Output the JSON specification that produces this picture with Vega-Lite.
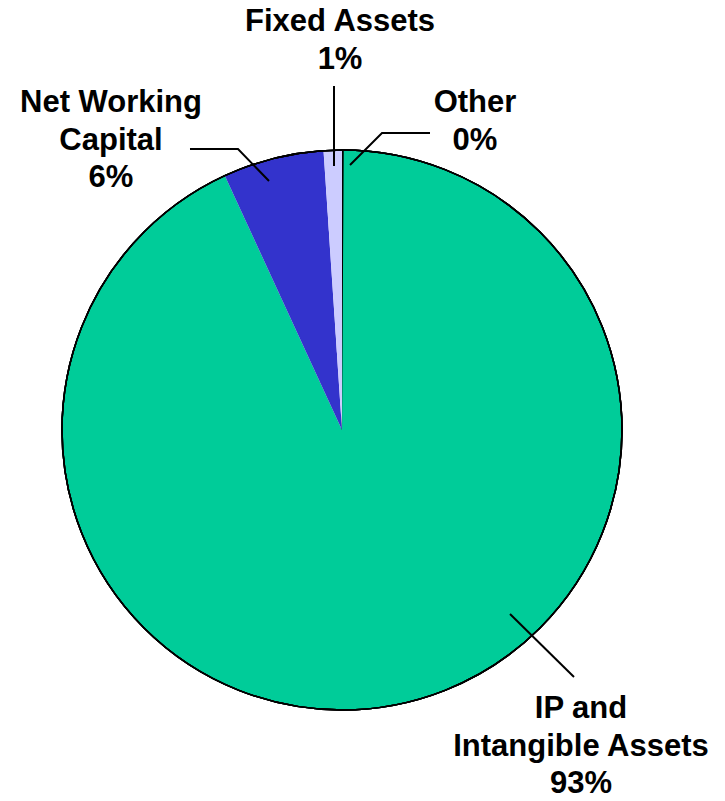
{
  "$schema": "https://vega.github.io/schema/vega-lite/v6.json",
  "width": 684,
  "height": 742,
  "autosize": {"type": "none"},
  "padding": {"left": 0, "top": 59, "right": 41, "bottom": 0},
  "background": "white",
  "config": {"view": {"stroke": null}},
  "datasets": {
    "slices": [
      {"category": "Other", "value": 0.1, "ord": 1},
      {"category": "IP and Intangible Assets", "value": 93.03, "ord": 2},
      {"category": "Net Working Capital", "value": 5.82, "ord": 3},
      {"category": "Fixed Assets", "value": 1.05, "ord": 4}
    ],
    "labels": [
      {"category": "Fixed Assets", "name": "Fixed Assets", "value": 1.05, "u": -0.007, "v": 1.425},
      {"category": "Other", "name": "Other", "value": 0.1, "u": 0.475, "v": 1.1357},
      {"category": "Net Working Capital", "name": "Net Working\nCapital", "value": 5.82, "u": -0.825, "v": 1.1357},
      {"category": "IP and Intangible Assets", "name": "IP and\nIntangible Assets", "value": 93.03, "u": 0.8536, "v": -1.0286}
    ],
    "leaders": [
      {"seg": "Fixed Assets", "ord": 1, "u": -0.0286, "v": 1.2286},
      {"seg": "Fixed Assets", "ord": 2, "u": -0.0286, "v": 0.9429},
      {"seg": "Other", "ord": 1, "u": 0.3143, "v": 1.0607},
      {"seg": "Other", "ord": 2, "u": 0.1429, "v": 1.0607},
      {"seg": "Other", "ord": 3, "u": 0.0286, "v": 0.9464},
      {"seg": "Net Working Capital", "ord": 1, "u": -0.5429, "v": 1.0036},
      {"seg": "Net Working Capital", "ord": 2, "u": -0.3714, "v": 1.0036},
      {"seg": "Net Working Capital", "ord": 3, "u": -0.2607, "v": 0.8893},
      {"seg": "IP and Intangible Assets", "ord": 1, "u": 0.6, "v": -0.6571},
      {"seg": "IP and Intangible Assets", "ord": 2, "u": 0.8286, "v": -0.8821}
    ]
  },
  "layer": [
    {
      "data": {"name": "slices"},
      "mark": {"type": "arc", "outerRadius": 280, "stroke": "black"},
      "encoding": {
        "theta": {"field": "value", "type": "quantitative", "stack": true},
        "order": {"field": "ord", "type": "quantitative", "sort": "ascending"},
        "color": {
          "field": "category",
          "type": "nominal",
          "scale": {
            "domain": ["Other", "IP and Intangible Assets", "Net Working Capital", "Fixed Assets"],
            "range": ["#000000", "#00CC99", "#3333CC", "#CCCCFF"]
          },
          "legend": null
        },
        "strokeWidth": {"condition": {"test": "datum.category === 'Other'", "value": 1.5}, "value": 0}
      }
    },
    {
      "data": {"name": "slices"},
      "mark": {"type": "arc", "outerRadius": 280, "theta": 0, "theta2": 6.2832, "fill": null, "stroke": "black", "strokeWidth": 1.5},
      "encoding": {}
    },
    {
      "data": {"name": "leaders"},
      "mark": {"type": "line", "color": "black", "strokeWidth": 2},
      "encoding": {
        "x": {"field": "u", "type": "quantitative", "scale": {"domain": [-1.22143, 1.22143], "nice": false, "zero": false}, "axis": null},
        "y": {"field": "v", "type": "quantitative", "scale": {"domain": [-1.325, 1.325], "nice": false, "zero": false}, "axis": null},
        "detail": {"field": "seg", "type": "nominal"},
        "order": {"field": "ord", "type": "quantitative"}
      }
    },
    {
      "data": {"name": "labels"},
      "transform": [
        {"calculate": "datum.name + '\\n' + format(datum.value / 100, '.0%')", "as": "display"}
      ],
      "mark": {
        "type": "text",
        "font": "Liberation Sans",
        "fontWeight": "bold",
        "fontSize": 31,
        "lineHeight": 37.5,
        "lineBreak": "\n",
        "align": "center",
        "baseline": "alphabetic",
        "color": "black"
      },
      "encoding": {
        "x": {"field": "u", "type": "quantitative"},
        "y": {"field": "v", "type": "quantitative"},
        "text": {"field": "display", "type": "nominal"}
      }
    }
  ]
}
